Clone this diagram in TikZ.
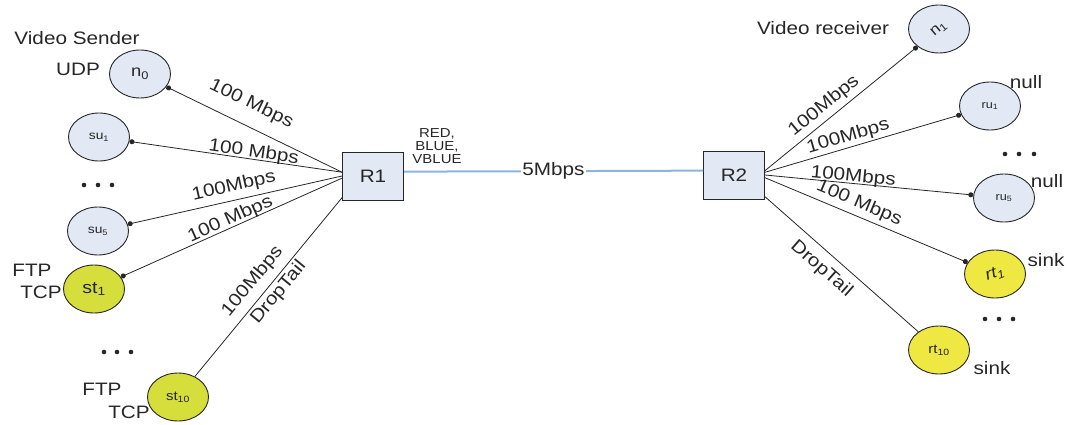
\documentclass[tikz,border=0pt]{standalone}
\usepackage{fontspec}
\setmainfont{Liberation Sans}[FakeStretch=1.15]
\usetikzlibrary{arrows.meta,shapes.geometric}
\definecolor{nodeblue}{HTML}{E2E9F5}
\definecolor{tcpgreen}{HTML}{D6DE3C}
\definecolor{sinkyel}{HTML}{EFE843}
\definecolor{linkblue}{HTML}{8DB3E2}
\definecolor{ink}{HTML}{262626}
\newcommand{\fsz}[1]{\fontsize{#1}{#1}\selectfont}
\begin{document}
\begin{tikzpicture}[x=1pt,y=-1pt,
  host/.style={ellipse, draw=ink, line width=0.9pt, minimum width=61pt, minimum height=48pt, inner sep=0pt, fill=nodeblue, text=ink},
  tcp/.style={host, fill=tcpgreen},
  sinkn/.style={host, fill=sinkyel},
  router/.style={rectangle, draw=ink, line width=1pt, fill=nodeblue, minimum width=61pt, minimum height=48pt, text=ink, font=\fsz{18}},
  lbl/.style={font=\fsz{18}, text=ink, inner sep=0pt},
  link/.style={line width=0.8pt, draw=ink},
  dotlink/.style={link, {Circle[length=5pt,width=5pt]}-},
  dotlinkr/.style={link, -{Circle[length=5pt,width=5pt]}},
  rate/.style={sloped, font=\fsz{18}, text=ink, inner sep=0pt},
  dotmark/.style={fill=ink, draw=none}
]
\useasboundingbox (0,0) rectangle (1067,425);

% routers
\node[router] (R1) at (373,176) {R1};
\node[router] (R2) at (734,175) {R2};

% left hosts
\node[host, font=\fsz{16}] (n0) at (140,74) {n\textsubscript{0}};
\node[host, font=\fsz{12}] (su1) at (99,137) {su\textsubscript{1}};
\node[host, font=\fsz{12}] (su5) at (98,231) {su\textsubscript{5}};
\node[tcp, font=\fsz{17}] (st1) at (94,289) {st\textsubscript{1}};
\node[tcp, font=\fsz{13}] (st10) at (178,397) {st\textsubscript{10}};

% right hosts
\node[host, font=\fsz{15}] (n1) at (939,29) {\rotatebox{40}{n\textsubscript{1}}};
\node[host, font=\fsz{11}] (ru1) at (990,106) {ru\textsubscript{1}};
\node[host, font=\fsz{11}] (ru5) at (1004,198) {ru\textsubscript{5}};
\node[sinkn, font=\fsz{16}] (rt1) at (995,274) {\rotatebox{20}{\itshape rt\textsubscript{1}}};
\node[sinkn, font=\fsz{13}] (rt10) at (939,350) {rt\textsubscript{10}};

% left links
\draw[dotlink] (n0) -- (R1.173) node[rate, pos=0.43, above=13pt] {100 Mbps};
\draw[dotlink] (su1) -- (R1.173) node[rate, pos=0.58, above=-2pt] {100 Mbps};
\draw[dotlink] (su5) -- (R1.180) node[rate, pos=0.51, above=5pt] {100Mbps};
\draw[dotlink] (st1) -- (R1.184) node[rate, pos=0.51, above=-1pt] {100 Mbps};
\draw[link] (st10) -- (R1.215)
  node[rate, pos=0.475, above=7pt] {100Mbps}
  node[rate, pos=0.51, below=2.5pt] {DropTail};

% right links
\draw[dotlinkr] (R2.8) -- (n1) node[rate, pos=0.44, above=4pt] {100Mbps};
\draw[dotlinkr] (R2.5) -- (ru1) node[rate, pos=0.44, above=2pt] {100Mbps};
\draw[dotlinkr] (R2.0) -- (ru5) node[rate, pos=0.42, above=-2pt] {100Mbps};
\draw[dotlinkr] (R2.-5) -- (rt1) node[rate, pos=0.44, above=4pt] {100 Mbps};
\draw[link] (R2.-35) -- (rt10) node[rate, pos=0.44, below=8pt] {DropTail};

% bottleneck link
\draw[draw=linkblue, line width=2pt] (R1.8) -- (R2.172)
  node[pos=0.5, fill=white, font=\fsz{18}, text=ink, inner sep=1pt] (bw) {5Mbps};
\node[font=\fsz{13}, text=ink, align=center, inner sep=0pt] (q) at (437,146) {RED,\\BLUE,\\VBLUE};

% texts
\node[lbl] (vs) at (77,38) {Video Sender};
\node[lbl] (udp) at (78,69) {UDP};
\node[lbl] (ftp1) at (32,270) {FTP};
\node[lbl] (tcp1) at (41,292) {TCP};
\node[lbl] (ftp2) at (102,389) {FTP};
\node[lbl] (tcp2) at (129,412) {TCP};
\node[lbl] (vr) at (823,28) {Video receiver};
\node[lbl] (null1) at (1026,82) {null};
\node[lbl] (null2) at (1047,181) {null};
\node[lbl] (sink1) at (1046,260) {sink};
\node[lbl] (sink2) at (992,368) {sink};

% ellipsis dots
\foreach \x in {84,98,112} \fill[dotmark] (\x,185) circle (2.3);
\foreach \x in {104,117,131} \fill[dotmark] (\x,352) circle (2.3);
\foreach \x in {1005,1019,1034} \fill[dotmark] (\x,154) circle (2.3);
\foreach \x in {985,999,1013} \fill[dotmark] (\x,319) circle (2.3);
\end{tikzpicture}
\end{document}
